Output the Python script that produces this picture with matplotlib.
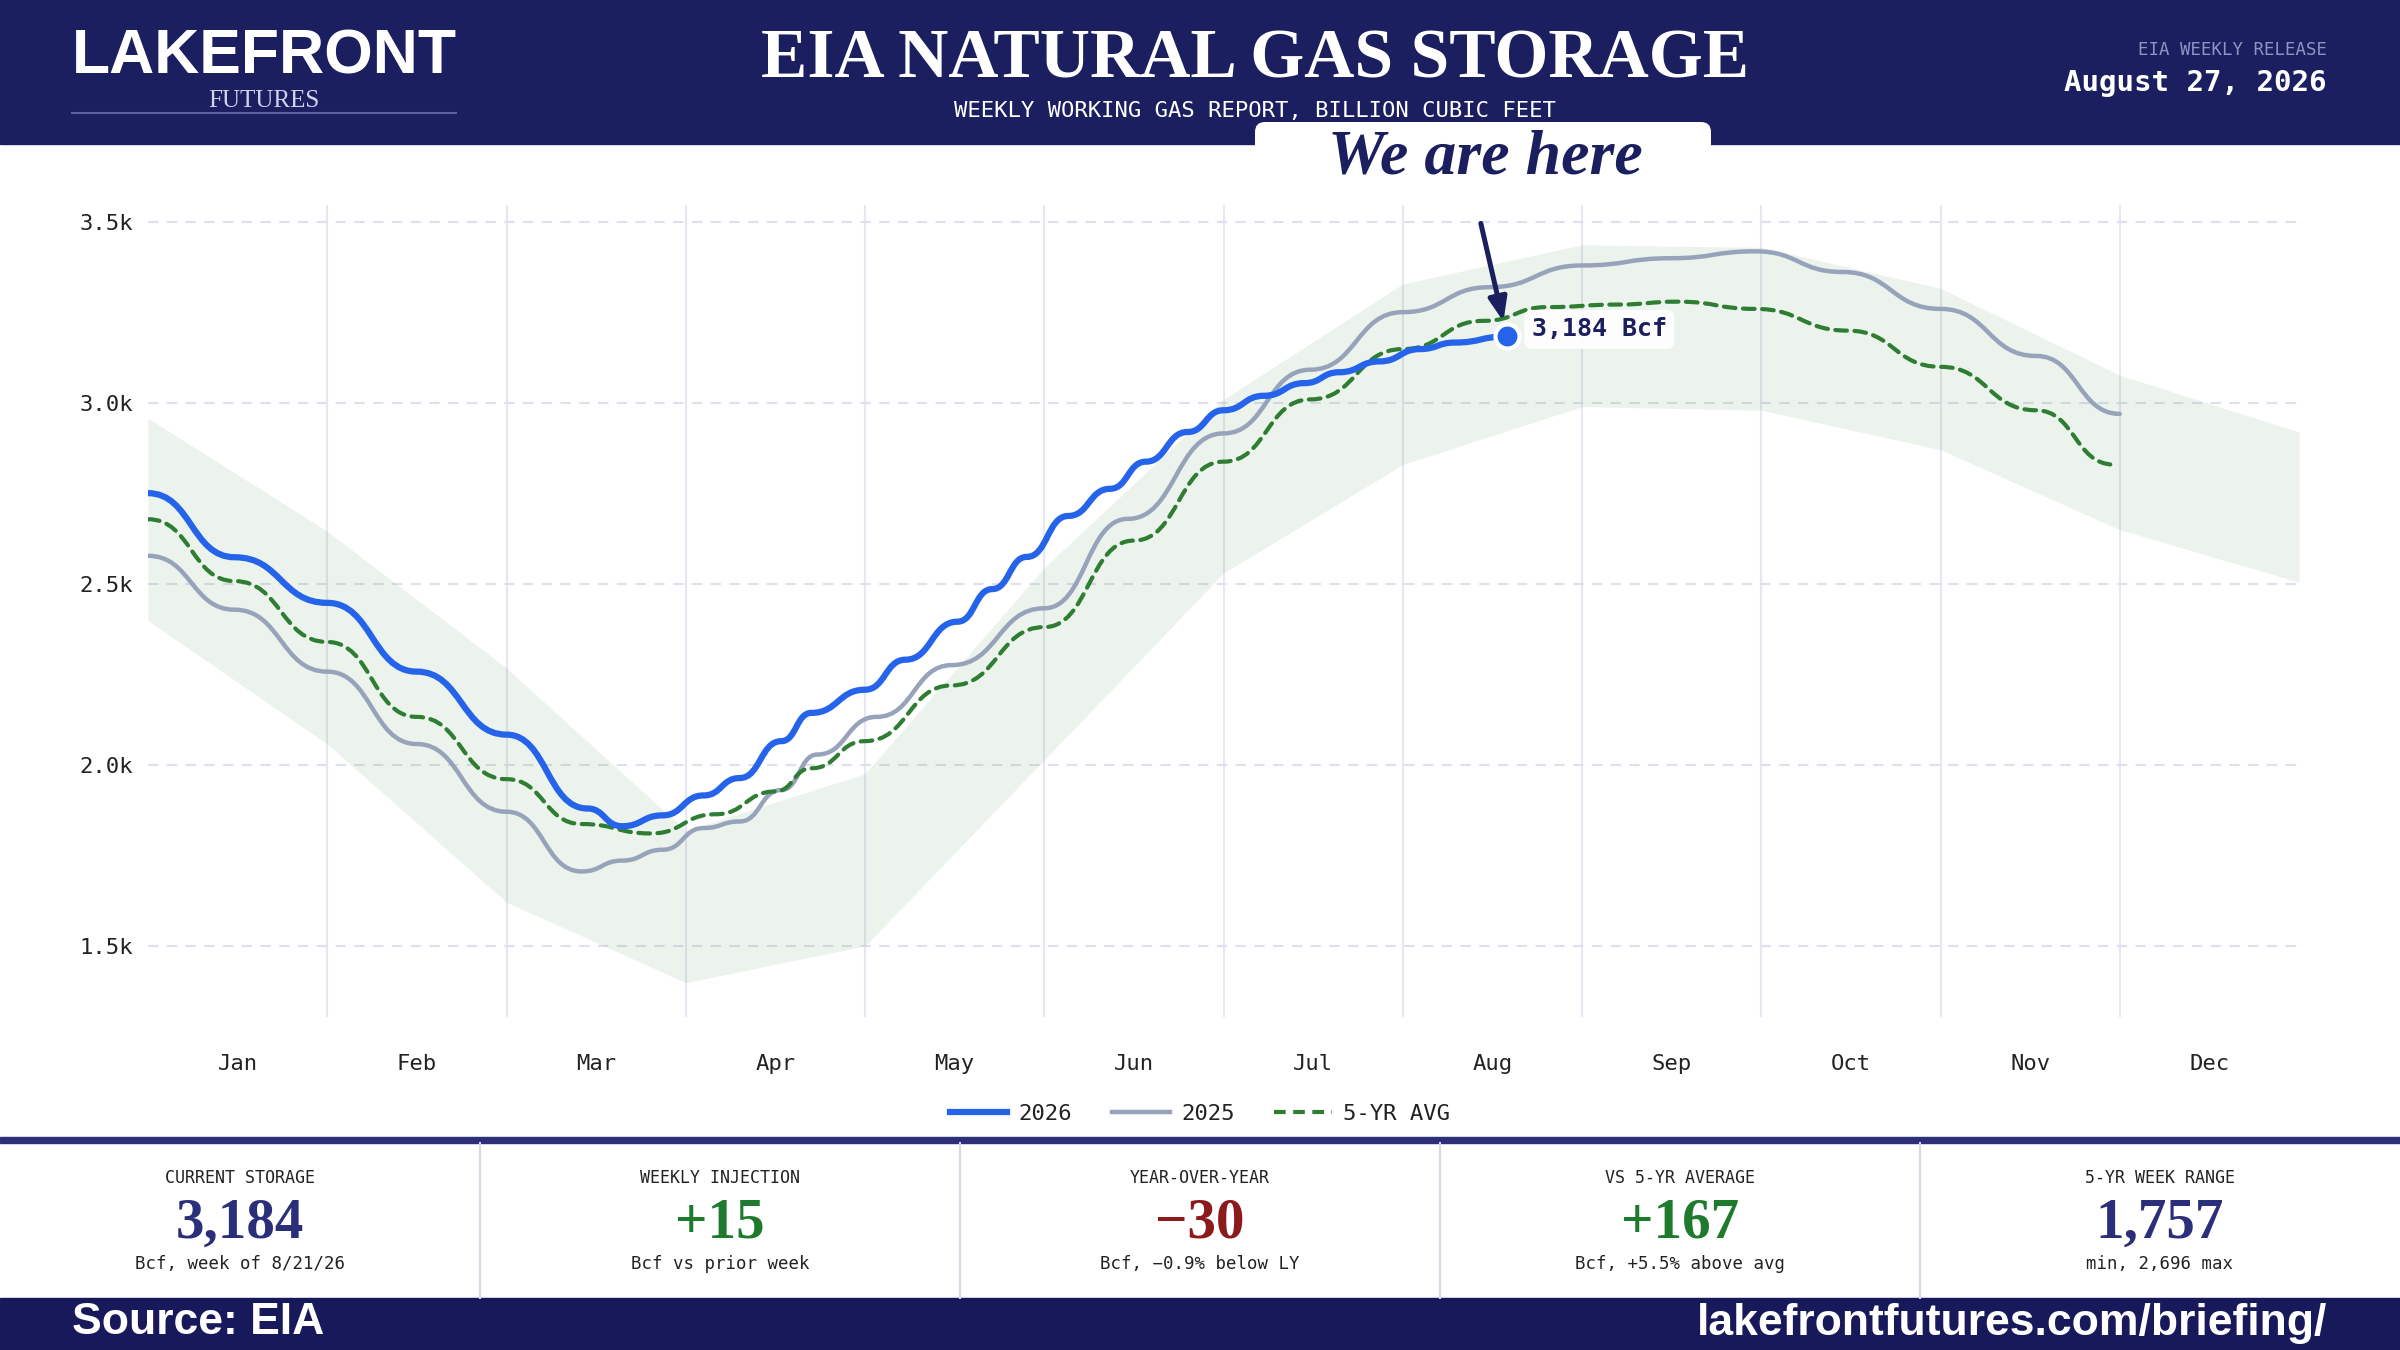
import numpy as np
import pandas as pd
import matplotlib
matplotlib.use('Agg')
import matplotlib.pyplot as plt
from matplotlib.path import Path
from matplotlib.patches import PathPatch, Rectangle, FancyBboxPatch
from matplotlib.lines import Line2D

W, H = 2400, 1350
NAVY = '#1b1f5f'
MONO = 'DejaVu Sans Mono'
SERIF = 'Liberation Serif'
SANS = 'Liberation Sans'

plt.rcParams['font.family'] = [MONO, 'DejaVu Sans']

months = ['Jan', 'Feb', 'Mar', 'Apr', 'May', 'Jun',
          'Jul', 'Aug', 'Sep', 'Oct', 'Nov', 'Dec']

# working gas in storage, Bcf (dates where the curve levels off)
dates_2026 = ['01-01', '01-16', '02-01', '02-15', '03-01', '03-15', '03-21', '03-28',
              '04-04', '04-10', '04-17', '04-22', '05-01', '05-08', '05-17', '05-23',
              '05-29', '06-05', '06-12', '06-18', '06-25', '07-01', '07-08', '07-15',
              '07-21', '07-28', '08-04', '08-10', '08-19']
bcf_2026 = [2751, 2574, 2448, 2258, 2084, 1880, 1831, 1861,
            1916, 1964, 2066, 2144, 2208, 2291, 2396, 2486,
            2575, 2688, 2763, 2838, 2920, 2980, 3020, 3055,
            3085, 3115, 3149, 3167, 3184]

dates_2025 = ['01-01', '01-16', '02-01', '02-15', '03-01', '03-14', '03-21', '03-28',
              '04-04', '04-10', '04-17', '04-23', '05-03', '05-16', '06-01', '06-15',
              '07-01', '07-16', '08-01', '08-16', '09-01', '09-16', '09-30', '10-15',
              '11-01', '11-17', '12-01']
bcf_2025 = [2578, 2429, 2258, 2058, 1871, 1706, 1736, 1766,
            1826, 1844, 1931, 2029, 2133, 2276, 2433, 2680,
            2916, 3092, 3251, 3320, 3380, 3400, 3419, 3362,
            3260, 3130, 2970]

dates_avg = ['01-01', '01-16', '02-01', '02-15', '03-01', '03-14', '03-26', '04-06',
             '04-16', '04-22', '05-01', '05-16', '06-01', '06-16', '07-01', '07-16',
             '08-01', '08-15', '08-26', '09-07', '09-17', '09-30', '10-16', '11-01',
             '11-17', '11-30']
bcf_avg = [2679, 2508, 2340, 2133, 1961, 1837, 1811, 1864,
           1927, 1991, 2066, 2220, 2381, 2620, 2838, 3010,
           3149, 3227, 3265, 3272, 3280, 3260, 3200, 3100,
           2980, 2830]

# 5-yr min / max at each month boundary (0 = Jan 1 ... 12 = Dec 31)
band_edge = list(range(13))
band_min = [2399, 2058, 1621, 1399, 1500, 2014, 2530, 2830, 2990, 2980, 2871, 2650, 2505]
band_max = [2958, 2646, 2268, 1819, 1976, 2545, 3010, 3329, 3437, 3430, 3317, 3077, 2920]

yticks = [1500, 2000, 2500, 3000, 3500]

stat_titles = ['CURRENT STORAGE', 'WEEKLY INJECTION', 'YEAR-OVER-YEAR',
               'VS 5-YR AVERAGE', '5-YR WEEK RANGE']
stat_values = ['3,184', '+15', '\u221230', '+167', '1,757']
stat_notes = ['Bcf, week of 8/21/26', 'Bcf vs prior week', 'Bcf, \u22120.9% below LY',
              'Bcf, +5.5% above avg', 'min, 2,696 max']
stat_colors = ['#2b2f7a', '#1e7a2c', '#8b1a1a', '#1e7a2c', '#2b2f7a']


def month_pos(d):
    t = pd.Timestamp('2026-' + d)
    return t.month - 1 + (t.day - 1) / t.days_in_month


def bump(ax, xs, ys, **kw):
    # smooth curve with a flat tangent at every point
    verts = [(xs[0], ys[0])]
    codes = [Path.MOVETO]
    for i in range(1, len(xs)):
        xm = (xs[i - 1] + xs[i]) / 2
        verts += [(xm, ys[i - 1]), (xm, ys[i]), (xs[i], ys[i])]
        codes += [Path.CURVE4] * 3
    ax.add_patch(PathPatch(Path(verts, codes), fill=False, capstyle='round',
                           joinstyle='round', **kw))


x26 = [month_pos(d) for d in dates_2026]
x25 = [month_pos(d) for d in dates_2025]
xavg = [month_pos(d) for d in dates_avg]

fig = plt.figure(figsize=(W / 100, H / 100), dpi=100)
fig.patch.set_facecolor('white')

# ---- frame: header, tab, stats panel, footer
ov = fig.add_axes([0, 0, 1, 1], zorder=0)
ov.set_xlim(0, W)
ov.set_ylim(H, 0)
ov.axis('off')
ov.add_patch(Rectangle((0, 0), W, 144, color=NAVY))
ov.add_patch(FancyBboxPatch((1255, 122), 456, 70, boxstyle='round,pad=0,rounding_size=10',
                            fc='white', ec='none'))
ov.add_patch(Rectangle((0, 1137), W, 6, color='#2d3079'))
for xd in (480, 960, 1440, 1920):
    ov.plot([xd, xd], [1143, 1298], color='#d6d8ea', lw=1.5)
ov.add_patch(Rectangle((0, 1298), W, 52, color='#17195b'))

ov.text(72, 57, 'LAKEFRONT', family=SANS, weight='bold', fontsize=45, color='white',
        ha='left', va='center')
ov.text(264, 101, 'FUTURES', family=SERIF, fontsize=18, color='#cfd2ee',
        ha='center', va='center')
ov.plot([72, 456], [113, 113], color='#5d62a0', lw=1.5)

ov.text(1255, 61, 'EIA NATURAL GAS STORAGE', family=SERIF, weight='bold', fontsize=50,
        color='white', ha='center', va='center')
ov.text(1255, 111, 'WEEKLY WORKING GAS REPORT, BILLION CUBIC FEET', fontsize=16,
        color='white', ha='center', va='center')
ov.text(2327, 50, 'EIA WEEKLY RELEASE', fontsize=12.5, color='#8f94c4',
        ha='right', va='center')
ov.text(2327, 83, 'August 27, 2026', fontsize=21, weight='bold', color='white',
        ha='right', va='center')
ov.text(1485, 158, 'We are here', family=SERIF, weight='bold', style='italic',
        fontsize=46, color=NAVY, ha='center', va='center')

for i in range(5):
    cx = 240 + 480 * i
    ov.text(cx, 1178, stat_titles[i], fontsize=12, color='#222222', ha='center', va='center')
    ov.text(cx, 1224, stat_values[i], family=SERIF, weight='bold', fontsize=41,
            color=stat_colors[i], ha='center', va='center')
    ov.text(cx, 1264, stat_notes[i], fontsize=12.5, color='#222222', ha='center', va='center')

ov.text(72, 1323, 'Source: EIA', family=SANS, weight='bold', fontsize=32,
        color='white', ha='left', va='center')
ov.text(2327, 1323, 'lakefrontfutures.com/briefing/', family=SANS, weight='bold',
        fontsize=32, color='white', ha='right', va='center')

# ---- chart
ax = fig.add_axes([148 / W, 1 - 1017 / H, 2151 / W, 812 / H], zorder=1)
ax.patch.set_alpha(0)
ax.set_xlim(0, 12)
ax.set_ylim(1304, 3547)
for s in ax.spines.values():
    s.set_visible(False)

ax.set_yticks(yticks)
ax.set_yticklabels([f'{v / 1000:.1f}k' for v in yticks])
ax.set_xticks(np.arange(12) + 0.5)
ax.set_xticklabels(months)
ax.set_xticks(np.arange(1, 12), minor=True)
ax.tick_params(axis='both', which='both', length=0, labelsize=16, labelcolor='#222222')
ax.tick_params(axis='y', pad=11)
ax.tick_params(axis='x', pad=27)
ax.yaxis.grid(True, color='#dfe0ee', lw=1.5, ls=(0, (5, 4)))
ax.xaxis.grid(True, which='minor', color='#e6e7f0', lw=1.5)
ax.set_axisbelow(True)

ax.fill_between(band_edge, band_min, band_max, color='#2e7d32', alpha=0.085, lw=0, zorder=1)
bump(ax, x25, bcf_2025, ec='#97a3ba', lw=3.2, zorder=3)
bump(ax, xavg, bcf_avg, ec='#2e7d32', lw=3, ls=(0, (2.8, 1.8)), zorder=4)
bump(ax, x26, bcf_2026, ec='#2563eb', lw=4.5, zorder=5)

ax.scatter([x26[-1]], [bcf_2026[-1]], s=300, color='#2563eb', edgecolor='white',
           linewidth=3, zorder=7)
ax.annotate('', xy=(x26[-1], bcf_2026[-1]), xytext=(-26, 113), textcoords='offset pixels',
            arrowprops=dict(arrowstyle='-|>,head_length=1.4,head_width=0.55', color=NAVY,
                            lw=3.6, shrinkA=0, shrinkB=11), zorder=8)
ax.annotate(f'{bcf_2026[-1]:,} Bcf', xy=(x26[-1], bcf_2026[-1]), xytext=(25, 7),
            textcoords='offset pixels', fontsize=18, weight='bold', color=NAVY,
            ha='left', va='center', zorder=8,
            bbox=dict(boxstyle='round,pad=0.3,rounding_size=0.3', fc='white', ec='none',
                      alpha=0.9))

handles = [Line2D([], [], color='#2563eb', lw=4.5),
           Line2D([], [], color='#97a3ba', lw=3.2),
           Line2D([], [], color='#2e7d32', lw=3, ls=(0, (2.8, 1.8)))]
fig.legend(handles, ['2026', '2025', '5-YR AVG'], loc='center',
           bbox_to_anchor=(0.5, 1 - 1114 / H), ncol=3, frameon=False, fontsize=16,
           handlelength=2.6, handletextpad=0.5, columnspacing=1.8, labelcolor='#222222')

fig.savefig('out.png', dpi=100)
